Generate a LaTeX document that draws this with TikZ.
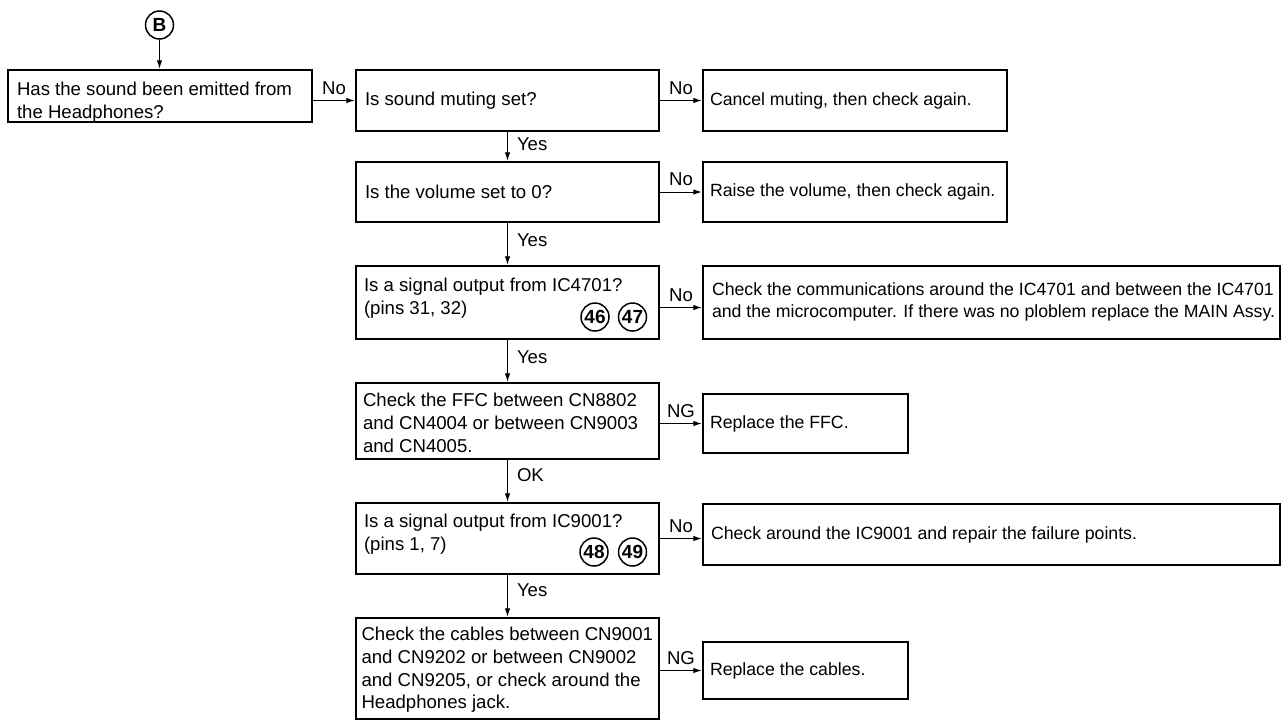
\documentclass[tikz,border=0pt]{standalone}
\usepackage{fontspec}
\setmainfont{Liberation Sans}
\usetikzlibrary{arrows.meta}
\begin{document}
\begin{tikzpicture}[x=1pt,y=-1pt,
  txtfont/.style={font=\fontsize{17.7}{22.7}\selectfont},
  qfont/.style={font=\fontsize{18.6}{22.7}\selectfont},
  box/.style 2 args={draw, line width=2.4pt, rectangle, minimum width=#1, minimum height=#2, inner sep=0pt},
  txt/.style={txtfont, align=left, inner sep=0pt, anchor=west},
  qtxt/.style={qfont, align=left, inner sep=0pt, anchor=west},
  arr/.style={line width=1pt, -{Latex[length=8.5pt,width=5.5pt]}},
  hlbl/.style={qfont, inner sep=0pt, anchor=south, yshift=5.5pt},
  vlbl/.style={qfont, inner sep=0pt, anchor=west, xshift=9pt},
  circnum/.style={draw, circle, line width=1.5pt, inner sep=0pt, minimum size=28pt,
    font=\fontsize{19}{19}\selectfont\bfseries}
]
\useasboundingbox (0,0) rectangle (1281,721);

% entry point
\node[circnum] (cB) at (159.5,25) {B};

% left column: questions and checks
\node[box={304pt}{52pt}]  (b1)  at (160,96)    {};
\node[box={303pt}{61pt}]  (b2)  at (507.5,100.5) {};
\node[box={303pt}{60pt}]  (b4)  at (507.5,192) {};
\node[box={303pt}{73pt}]  (b6)  at (507.5,302.5) {};
\node[box={303pt}{76pt}]  (b8)  at (507.5,421) {};
\node[box={303pt}{71pt}]  (b10) at (507.5,538.5) {};
\node[box={303pt}{101pt}] (b12) at (507.5,668.5) {};

% right column: remedies
\node[box={304pt}{61pt}]  (b3)  at (855,100.5) {};
\node[box={304pt}{60pt}]  (b5)  at (855,192) {};
\node[box={577pt}{73pt}]  (b7)  at (991.5,302.5) {};
\node[box={205pt}{59pt}]  (b9)  at (805.5,423.5) {};
\node[box={577pt}{61pt}]  (b11) at (991.5,534.5) {};
\node[box={205pt}{57pt}]  (b13) at (805.5,670.5) {};

% box texts
\node[qtxt] (t1) at ([xshift=10pt,yshift=-6pt]b1.west) {Has the sound been emitted from\\the Headphones?};
\node[qtxt] (t2) at ([xshift=10pt]b2.west) {Is sound muting set?};
\node[txt] (t3) at ([xshift=8pt]b3.west) {Cancel muting, then check again.};
\node[qtxt] (t4) at ([xshift=10pt]b4.west) {Is the volume set to 0?};
\node[txt] (t5) at ([xshift=8pt]b5.west) {Raise the volume, then check again.};
\node[qtxt] (t6) at ([xshift=9pt,yshift=4pt]b6.west) {Is a signal output from IC4701?\\(pins 31, 32)};
\node[txt] (t7) at ([xshift=10pt,yshift=0.5pt]b7.west) {Check the communications around the IC4701 and between the IC4701\\and the microcomputer. If there was no ploblem replace the MAIN Assy.};
\node[qtxt] (t8) at ([xshift=8pt,yshift=-2pt]b8.west) {Check the FFC between CN8802\\and CN4004 or between CN9003\\and CN4005.};
\node[txt] (t9) at ([xshift=8pt]b9.west) {Replace the FFC.};
\node[qtxt] (t10) at ([xshift=9pt,yshift=4pt]b10.west) {Is a signal output from IC9001?\\(pins 1, 7)};
\node[txt] (t11) at ([xshift=9pt]b11.west) {Check around the IC9001 and repair the failure points.};
\node[qtxt] (t12) at ([xshift=6.5pt,yshift=-1.5pt]b12.west) {Check the cables between CN9001\\and CN9202 or between CN9002\\and CN9205, or check around the\\Headphones jack.};
\node[txt] (t13) at ([xshift=8pt]b13.west) {Replace the cables.};

% circled reference numbers
\node[circnum] (c46) at (595,317) {46};
\node[circnum] (c47) at (632.5,317) {47};
\node[circnum] (c48) at (594,552) {48};
\node[circnum] (c49) at (632.5,552) {49};

% connectors
\draw[arr] (cB.south) -- (cB.south |- b1.north);
\draw[arr] (b1.east |- b2.west) -- (b2.west) node[hlbl, midway] {No};
\draw[arr] (b2.east) -- (b3.west) node[hlbl, midway] {No};
\draw[arr] (b2.south) -- (b4.north) node[vlbl, pos=0.42] {Yes};
\draw[arr] (b4.east) -- (b5.west) node[hlbl, midway] {No};
\draw[arr] (b4.south) -- (b6.north) node[vlbl, pos=0.42] {Yes};
\draw[arr] ([yshift=-5pt]b6.east) -- ([yshift=-5pt]b7.west) node[hlbl, midway] {No};
\draw[arr] (b6.south) -- (b8.north) node[vlbl, pos=0.42] {Yes};
\draw[arr] (b8.east |- b9.west) -- (b9.west) node[hlbl, midway] {NG};
\draw[arr] (b8.south) -- (b10.north) node[vlbl, pos=0.36] {OK};
\draw[arr] (b10.east) -- (b10.east -| b11.west) node[hlbl, midway] {No};
\draw[arr] (b10.south) -- (b12.north) node[vlbl, pos=0.36] {Yes};
\draw[arr] (b12.east |- b13.west) -- (b13.west) node[hlbl, midway] {NG};
\end{tikzpicture}
\end{document}
